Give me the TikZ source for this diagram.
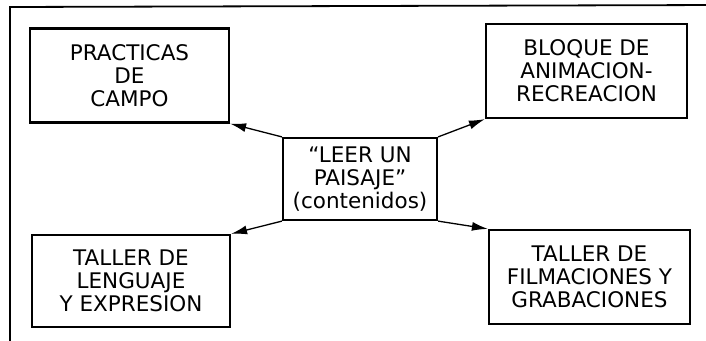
\documentclass[tikz,border=0pt]{standalone}
\usepackage{fontspec}
\setmainfont{DejaVu Sans}
\usetikzlibrary{arrows.meta}
\begin{document}
\begin{tikzpicture}[x=1pt, y=-1pt]
        \tikzset{
        pl node/.style={rectangle,draw,line width=2.2pt,minimum width=199pt,minimum height=94pt,inner sep=0,align=center,font=\fontsize{21.5}{23}\selectfont},
        pl edge/.style={-{Latex[length=16pt,width=9pt]},line width=1.3pt}
        }
        \useasboundingbox (0,0) rectangle (706,340);
        \clip (0,0) rectangle (706,340);
        \draw[line width=1.8pt] (10,360) -- (10,7) -- (720,5);

        \node[pl node] (c) at (360, 179) [minimum width=154pt, minimum height=82pt] {``LEER UN\\PAISAJE''\\(contenidos)};
        \node[pl node] (tl) at (129.5, 75.5) {PRACTICAS\\DE\\CAMPO};
        \node[pl node] (tr) at (586.5, 71) [minimum width=201pt] {BLOQUE DE\\ANIMACION-\\RECREACION};
        \node[pl node] (bl) at (131, 281) [minimum width=198pt, minimum height=92pt] {TALLER DE\\LENGUAJE\\Y EXPRESION};
        \node[pl node] (br) at (589.5, 277) [minimum width=201pt] {TALLER DE\\FILMACIONES Y\\GRABACIONES};

        \path[draw]
        (c.north west) edge[pl edge] (tl.south east)
        (c.north east) edge[pl edge] (tr.south west)
        (c.south west) edge[pl edge] (bl.north east)
        (c.south east) edge[pl edge] (br.north west)
        ;
    \end{tikzpicture}
\end{document}
